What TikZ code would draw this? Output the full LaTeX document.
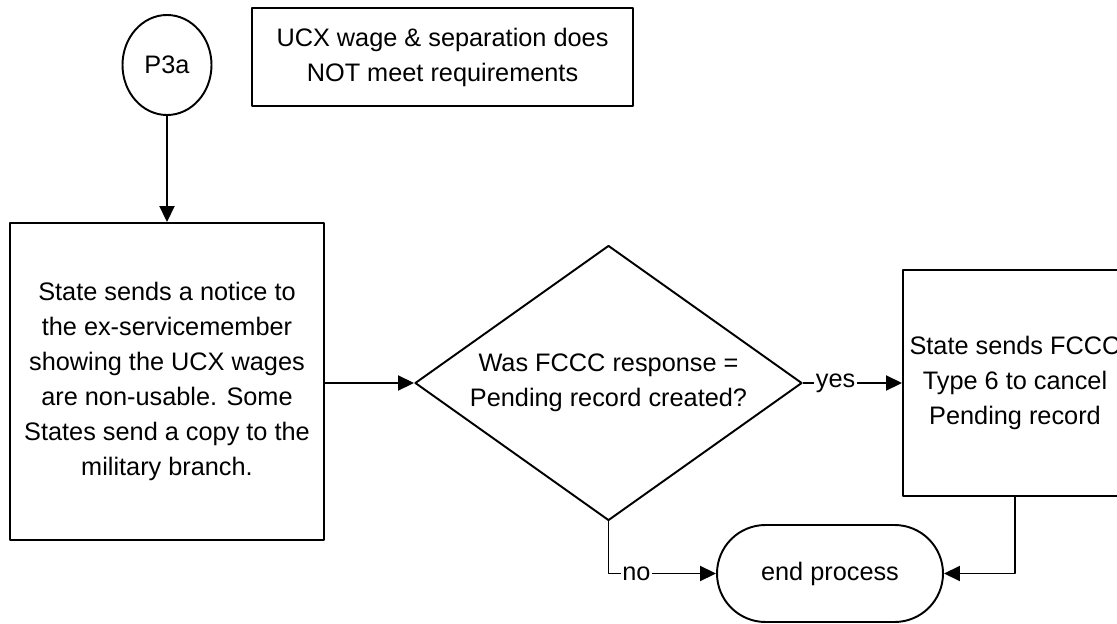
\documentclass[tikz,border=0pt]{standalone}
\usepackage{fontspec}
\setmainfont{Liberation Sans}
\usetikzlibrary{arrows.meta,shapes.geometric,shapes.misc}
\tikzset{
  every picture/.style={line join=round, >=Stealth},
}

\begin{document}
\begin{tikzpicture}[>={Triangle[length=0.32cm,width=0.3cm]},line width=1.1pt,
  every node/.style={font=\fontsize{14.4}{19.9}\selectfont, align=center},
  proc/.style={draw, rectangle, inner sep=0pt},
  conn/.style={draw, ellipse, inner sep=0pt, minimum width=1.78cm, minimum height=2cm},
  decision/.style={draw, diamond, inner sep=0pt, aspect=1.4, minimum width=7.74cm, minimum height=5.5cm},
  term/.style={draw, rounded rectangle, inner sep=0pt, minimum width=4.52cm, minimum height=1.94cm},
  lbl/.style={fill=white, inner sep=1pt}]
\useasboundingbox (0,0) rectangle (22.34,12.46);
\node[conn] (p3a) at (3.34,11.16) {P3a};
\node[proc, minimum width=7.62cm, minimum height=1.96cm] (note) at (8.85,11.32) {UCX wage \& separation does\\NOT meet requirements};
\node[proc, minimum width=6.28cm, minimum height=6.34cm] (notice) at (3.34,4.83) {State sends a notice to\\the ex-servicemember\\showing the UCX wages\\are non-usable. Some\\States send a copy to the\\military branch.};
\node[decision] (resp) at (12.17,4.80) {Was FCCC response =\\Pending record created?};
\node[proc, minimum width=4.48cm, minimum height=4.52cm] (cancel) at (20.3,4.80) {State sends FCCC\\Type 6 to cancel\\Pending record};
\node[term] (end) at (16.6,0.99) {end process};
% connectors
\draw[->] (p3a) -- (notice);
\draw[->] (notice.east |- resp.west) -- (resp.west);
\draw[->] (resp.east) -- node[lbl,pos=0.33]{yes} (cancel.west |- resp.east);
\draw[->] (resp.south) |- node[lbl,pos=0.63]{no} (end.west);
\draw[->] (cancel.south) |- (end.east);
\end{tikzpicture}
\end{document}
